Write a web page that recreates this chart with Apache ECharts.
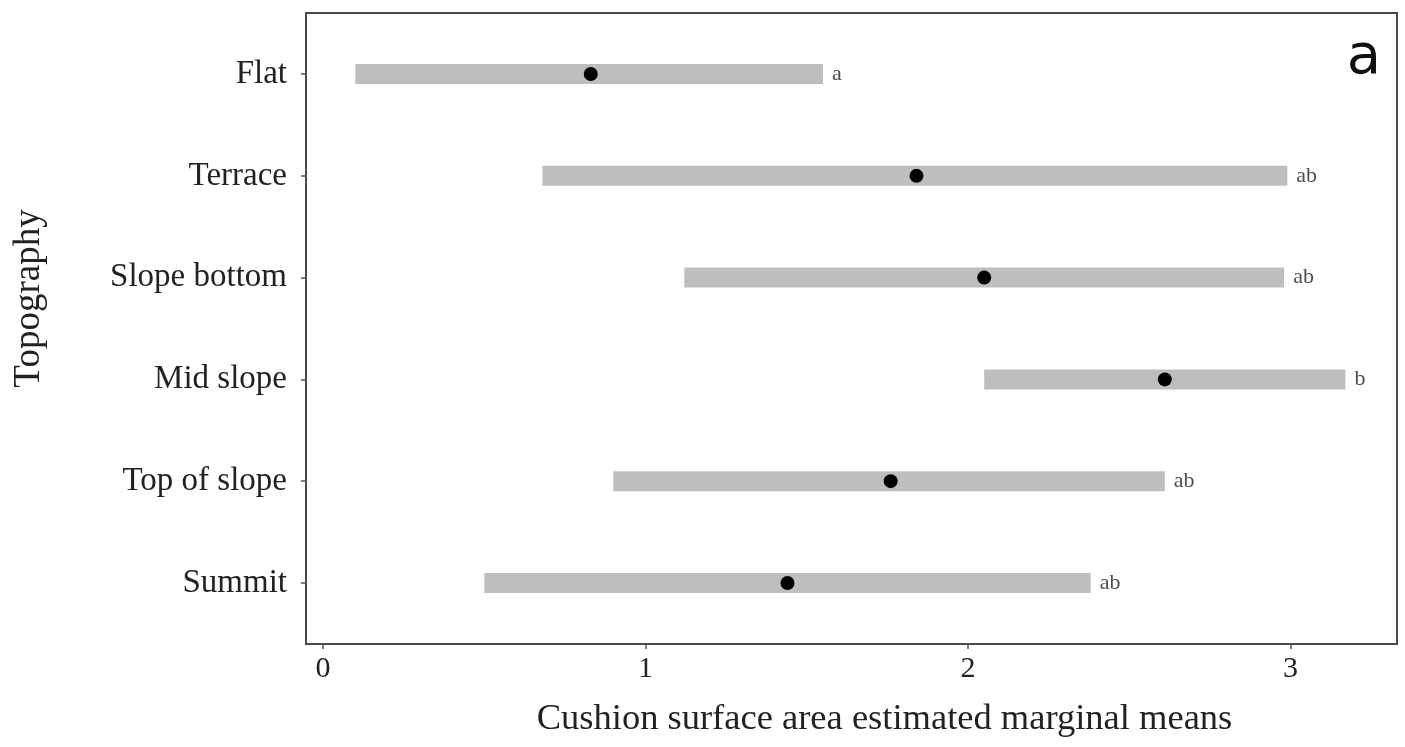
<!DOCTYPE html>
<html>
<head>
<meta charset="utf-8">
<script src="https://cdn.jsdelivr.net/npm/echarts@6/dist/echarts.min.js"></script>
<style>html,body{margin:0;padding:0;background:#fff;}#c{width:1405px;height:747px;}</style>
</head>
<body>
<div id="c"></div>
<script>
// Categories, top to bottom
const categories = ['Flat', 'Terrace', 'Slope bottom', 'Mid slope', 'Top of slope', 'Summit'];
const lowerCI = [0.10, 0.68, 1.12, 2.05, 0.90, 0.50];
const upperCI = [1.55, 2.99, 2.98, 3.17, 2.61, 2.38];
const means   = [0.83, 1.84, 2.05, 2.61, 1.76, 1.44];
const groupLetters = ['a', 'ab', 'ab', 'b', 'ab', 'ab'];
const xTicks = [0, 1, 2, 3];

const n = categories.length;
const yPos = categories.map((c, i) => n - 1 - i);
const yTicks = yPos.slice().sort((a, b) => a - b);

const serif = '"Liberation Serif", "DejaVu Serif", serif';

const chart = echarts.init(document.getElementById('c'));
chart.setOption({
  animation: false,
  backgroundColor: '#ffffff',
  grid: { left: 306, top: 13, width: 1091, height: 631, outerBoundsMode: 'none', containLabel: false,
          show: true, borderColor: '#4a4a4a', borderWidth: 2, backgroundColor: 'transparent' },
  xAxis: {
    type: 'value', min: -0.053, max: 3.33,
    name: 'Cushion surface area estimated marginal means',
    nameLocation: 'middle', nameGap: 57,
    nameTextStyle: { fontFamily: serif, fontSize: 36.5, color: '#222', padding: [0, 0, 0, 66] },
    axisLine: { show: true, onZero: false, lineStyle: { color: '#4a4a4a', width: 2 } },
    axisTick: { show: true, length: 5, customValues: xTicks, lineStyle: { color: '#555', width: 1.5 } },
    axisLabel: { customValues: xTicks, margin: 10, fontFamily: serif, fontSize: 30, color: '#222' },
    splitLine: { show: false }
  },
  yAxis: {
    type: 'value', min: -0.6, max: 5.6,
    name: 'Topography', nameLocation: 'middle', nameGap: 258,
    nameTextStyle: { fontFamily: serif, fontSize: 37, color: '#222', padding: [0, 0, 0, 60] },
    axisLine: { show: true, onZero: false, lineStyle: { color: '#4a4a4a', width: 2 } },
    axisTick: { show: true, length: 5, customValues: yTicks, lineStyle: { color: '#555', width: 1.5 } },
    axisLabel: {
      customValues: yTicks, margin: 19, fontFamily: serif, fontSize: 33, color: '#222',
      formatter: v => categories[n - 1 - Math.round(v)]
    },
    splitLine: { show: false }
  },
  graphic: [{
    type: 'text', right: 24, top: 30,
    style: { text: 'a', font: '56px "DejaVu Sans", sans-serif', fill: '#111' }
  }],
  series: [
    {
      type: 'custom',
      data: categories.map((c, i) => [lowerCI[i], upperCI[i], yPos[i]]),
      renderItem: function (params, api) {
        const p1 = api.coord([api.value(0), api.value(2)]);
        const p2 = api.coord([api.value(1), api.value(2)]);
        const h = 20;
        return { type: 'rect', shape: { x: p1[0], y: p1[1] - h / 2, width: p2[0] - p1[0], height: h }, style: { fill: '#bebebe' } };
      },
      encode: { x: [0, 1], y: 2 },
      z: 2
    },
    {
      type: 'scatter',
      data: categories.map((c, i) => [means[i], yPos[i]]),
      symbol: 'circle', symbolSize: 14,
      itemStyle: { color: '#000', opacity: 1 },
      z: 3
    },
    {
      type: 'scatter',
      data: categories.map((c, i) => ({ value: [upperCI[i], yPos[i]], label: { formatter: groupLetters[i] } })),
      symbolSize: 0,
      itemStyle: { color: 'transparent' },
      label: { show: true, position: 'right', distance: 9, fontFamily: serif, fontSize: 22, color: '#222' },
      z: 4
    }
  ]
});
</script>
</body>
</html>
